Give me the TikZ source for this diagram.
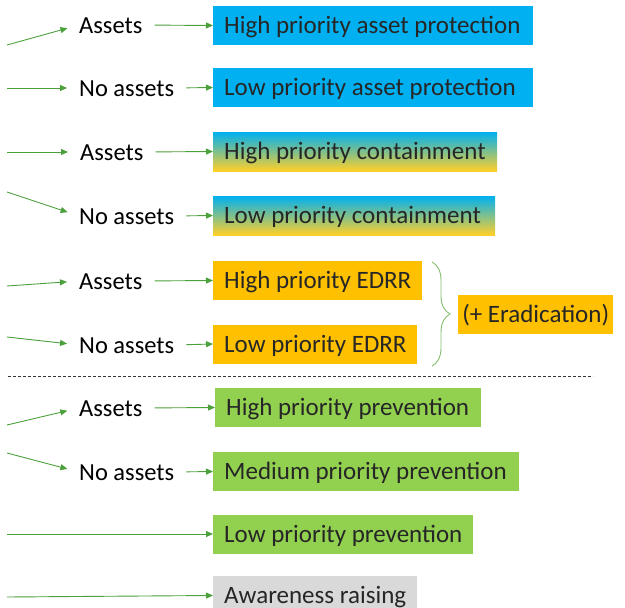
\documentclass[tikz,border=0pt]{standalone}
\usepackage{fontspec}
\setmainfont{Carlito}
\usetikzlibrary{arrows.meta,decorations.pathreplacing}
\definecolor{arr}{RGB}{76,160,60}
\definecolor{bblue}{RGB}{0,176,240}
\definecolor{bmid}{RGB}{185,195,165}
\definecolor{byel}{RGB}{255,208,40}
\definecolor{borange}{RGB}{255,192,0}
\definecolor{bgreen}{RGB}{146,208,80}
\definecolor{bgray}{RGB}{217,217,217}
\definecolor{btext}{RGB}{38,38,38}
\definecolor{brc}{RGB}{130,190,110}
\newcommand{\bx}[2]{\makebox[#1][l]{#2}}
\begin{document}
\begin{tikzpicture}[x=1pt,y=-1pt,
  every node/.style={font=\fontsize{24.5}{28}\selectfont,text height=16pt,text depth=0pt},
  lbl/.style={anchor=west,inner sep=0pt,text=black},
  box/.style={anchor=west,inner xsep=11pt,inner ysep=0pt,minimum height=39pt,text=btext,font=\fontsize{25}{28}\selectfont},
  arrow/.style={draw=arr,line width=0.9pt,-{Triangle[length=7pt,width=6pt]}},
  grad/.style={top color=bblue,middle color=bmid,bottom color=byel}
]
\clip (0,0) rectangle (625,608);
% boxes
\node[box,fill=bblue] (b1) at (213,25.5) {\bx{298pt}{High priority asset protection}};
\node[box,fill=bblue] (b2) at (213,87.5) {\bx{298pt}{Low priority asset protection}};
\node[box,grad] (b3) at (213,151.5) {\bx{262pt}{High priority containment}};
\node[box,grad] (b4) at (213,215.5) {\bx{260pt}{Low priority containment}};
\node[box,fill=borange] (b5) at (213,280.5) {\bx{187pt}{High priority EDRR}};
\node[box,fill=borange] (b6) at (213,344) {\bx{182pt}{Low priority EDRR}};
\node[box,fill=borange,inner xsep=8pt] (b7) at (458,314) {\makebox[139pt][c]{(+ Eradication)}};
\node[box,fill=bgreen] (b8) at (215,407.5) {\bx{244pt}{High priority prevention}};
\node[box,fill=bgreen] (b9) at (213,471.5) {\bx{284pt}{Medium priority prevention}};
\node[box,fill=bgreen] (b10) at (213,534) {\bx{238pt}{Low priority prevention}};
\node[box,fill=bgray] (b11) at (213,595.5) {\bx{182pt}{Awareness raising}};
% labels
\node[lbl] (a1) at (79,25) {Assets};
\node[lbl] (a2) at (79,88) {No assets};
\node[lbl] (a3) at (80,152) {Assets};
\node[lbl] (a4) at (79,216) {No assets};
\node[lbl] (a5) at (79,281) {Assets};
\node[lbl] (a6) at (79,345) {No assets};
\node[lbl] (a8) at (79,408) {Assets};
\node[lbl] (a9) at (79,472) {No assets};
% start points
\coordinate (s1) at (7,45);
\coordinate (s2) at (7,88);
\coordinate (s3) at (7,152);
\coordinate (s4) at (7,192);
\coordinate (s5) at (7,286);
\coordinate (s6) at (7,337);
\coordinate (s8) at (7,425);
\coordinate (s9) at (7,453);
\coordinate (s10) at (7,534);
\coordinate (s11) at (7,597);
% arrows
\foreach \i in {1,2,3,4,5,6,8,9}{
  \draw[arrow,shorten >=12pt] (s\i) -- (a\i.west);
  \draw[arrow,shorten <=12pt] (a\i.east) -- (b\i.west);
}
\draw[arrow] (s10) -- (b10.west);
\draw[arrow] (s11) -- (b11.west);
% brace
\coordinate (bt) at (432,262);
\coordinate (bb) at (432,366);
\draw[brc,line width=0.9pt,decorate,decoration={brace,amplitude=18pt}] (bt) -- (bb);
% dashed separator
\coordinate (d1) at (8,376);
\coordinate (d2) at (593,376);
\draw[black!80,line width=0.7pt,dash pattern=on 3pt off 2pt] (d1) -- (d2);
\end{tikzpicture}
\end{document}
